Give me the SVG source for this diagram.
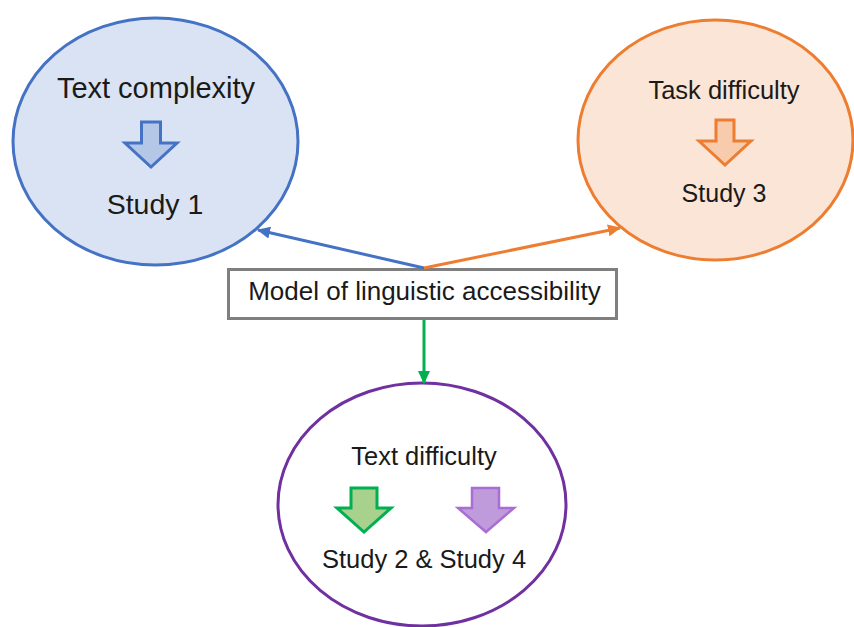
<svg xmlns="http://www.w3.org/2000/svg" width="854" height="627" viewBox="0 0 854 627">
<style>
text{font-family:"Liberation Sans",Arial,sans-serif;fill:#1a1a1a;text-anchor:middle}
.conn{fill:none;stroke-width:3}
</style>
<defs>
<marker id="mb" markerUnits="userSpaceOnUse" markerWidth="14" markerHeight="12" refX="12" refY="6" orient="auto"><path d="M0,0 L13,6 L0,12 z" fill="#4472C4"/></marker>
<marker id="mo" markerUnits="userSpaceOnUse" markerWidth="14" markerHeight="12" refX="12" refY="6" orient="auto"><path d="M0,0 L13,6 L0,12 z" fill="#ED7D31"/></marker>
<marker id="mg" markerUnits="userSpaceOnUse" markerWidth="14" markerHeight="12" refX="12" refY="6" orient="auto"><path d="M0,0 L13,6 L0,12 z" fill="#00B050"/></marker>
</defs>
<rect width="854" height="627" fill="#fff"/>
<g id="text-complexity">
<ellipse cx="155.5" cy="141.5" rx="142.5" ry="123.5" fill="#DAE3F3" stroke="#4472C4" stroke-width="3"/>
<text x="156" y="98" font-size="29">Text complexity</text>
<polygon points="141.5,122 160.5,122 160.5,143 177,143 151,167 125,143 141.5,143" fill="#B4C7E7" stroke="#4472C4" stroke-width="3" stroke-linejoin="miter"/>
<text x="155" y="214" font-size="28.5">Study 1</text>
</g>
<g id="task-difficulty">
<ellipse cx="715.5" cy="140" rx="137.5" ry="120" fill="#FBE5D6" stroke="#ED7D31" stroke-width="3"/>
<text x="724" y="99" font-size="25.5">Task difficulty</text>
<polygon points="716,120 734,120 734,141 751,141 725,165 699,141 716,141" fill="#F8CBAD" stroke="#ED7D31" stroke-width="3"/>
<text x="724" y="202" font-size="25">Study 3</text>
</g>
<g id="model">
<rect x="228.5" y="269.5" width="388" height="49" fill="#fff" stroke="#7F7F7F" stroke-width="3"/>
<text x="424.5" y="300" font-size="26">Model of linguistic accessibility</text>
</g>
<g id="text-difficulty">
<ellipse cx="422" cy="504.5" rx="144" ry="121.5" fill="#fff" stroke="#7030A0" stroke-width="3"/>
<text x="424" y="465" font-size="25.5">Text difficulty</text>
<polygon points="351,488 377,488 377,508 391,508 364,532 337,508 351,508" fill="#A9D18E" stroke="#00B050" stroke-width="3"/>
<polygon points="472,488 499,488 499,508 514,508 486,532 458,508 472,508" fill="#C09BDC" stroke="#A86ED4" stroke-width="2.5"/>
<text x="424" y="568" font-size="25.5">Study 2 &amp; Study 4</text>
</g>
<g id="connectors">
<line class="conn" x1="424" y1="268" x2="258" y2="230" stroke="#4472C4" marker-end="url(#mb)"/>
<line class="conn" x1="424" y1="268" x2="620" y2="228" stroke="#ED7D31" marker-end="url(#mo)"/>
<line class="conn" x1="424" y1="320" x2="424" y2="383" stroke="#00B050" marker-end="url(#mg)"/>
</g>
</svg>
